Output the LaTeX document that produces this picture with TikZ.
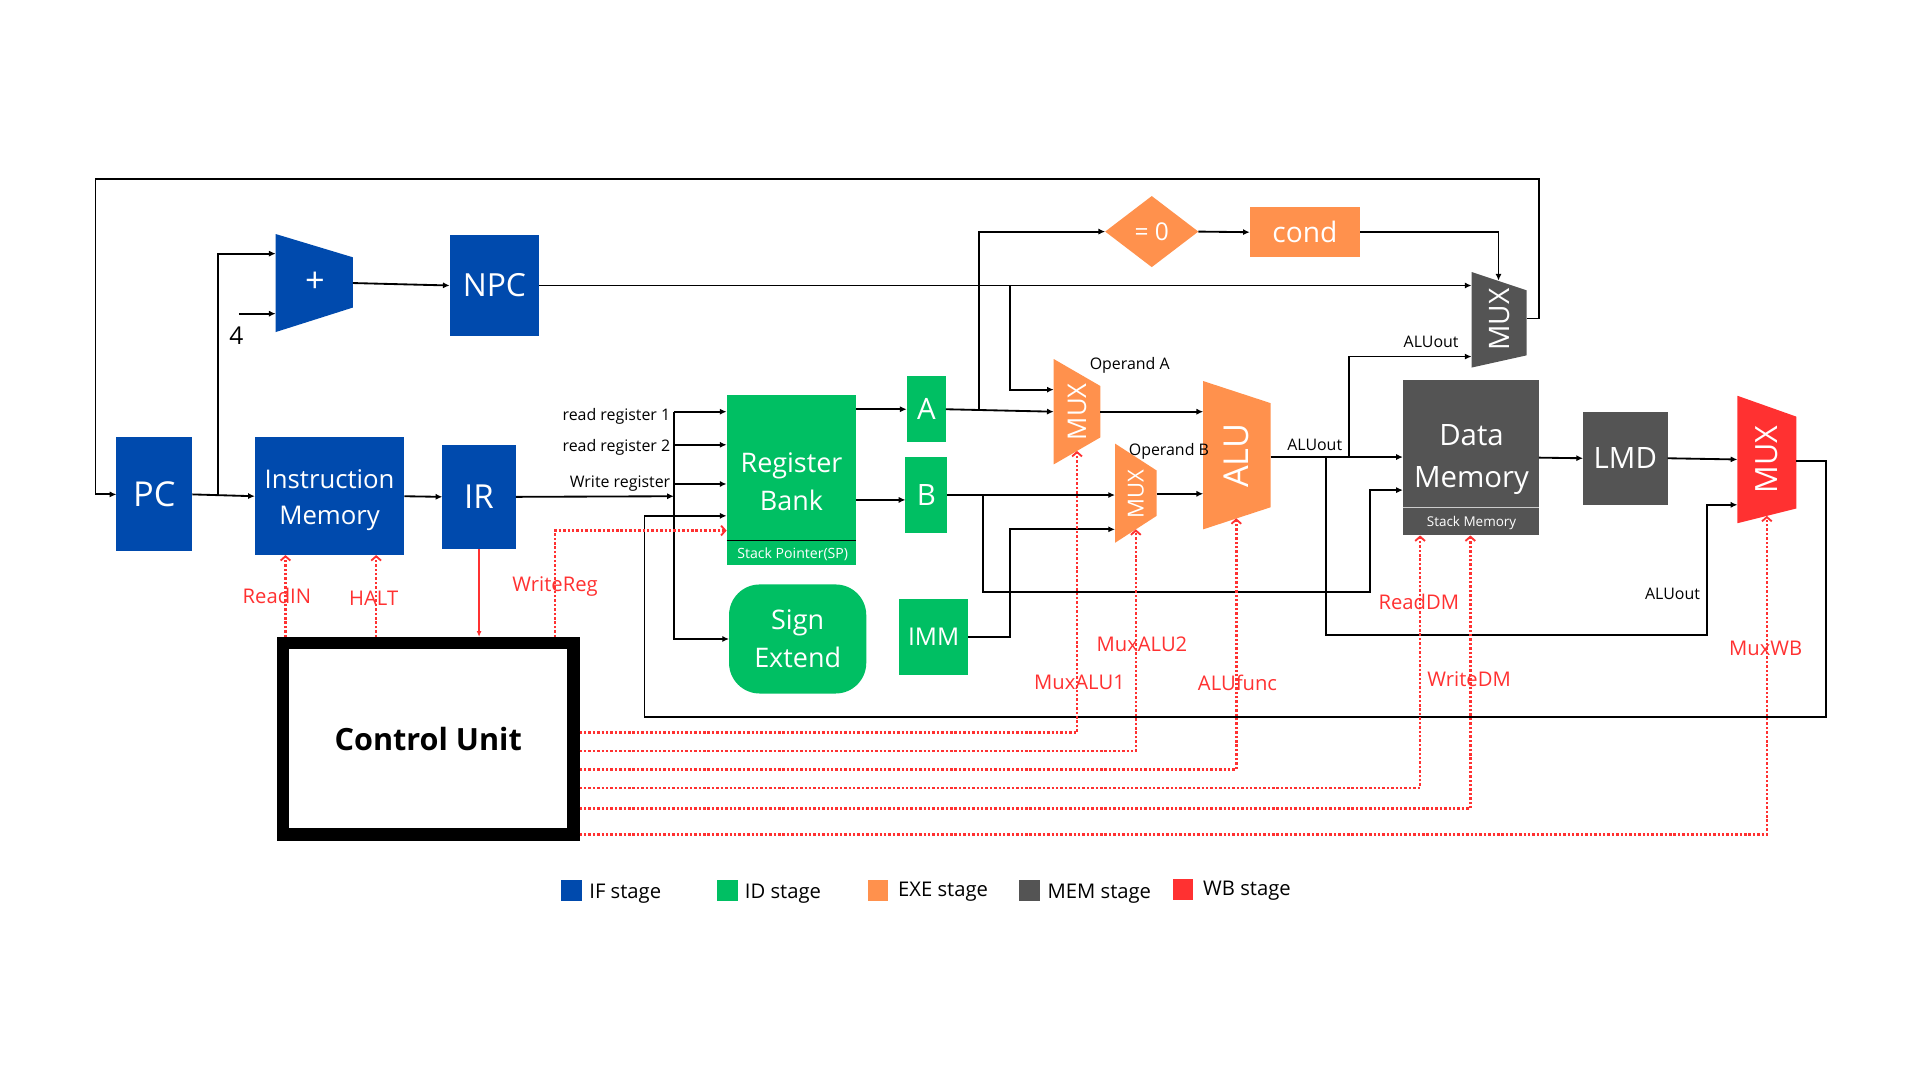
\documentclass[tikz,border=0pt]{standalone}
\usepackage{fontspec}
\setmainfont{Open Sans}
\usetikzlibrary{arrows.meta,shapes.geometric}
\definecolor{cIF}{HTML}{004AAD}
\definecolor{cID}{HTML}{00BF63}
\definecolor{cEX}{HTML}{FF914D}
\definecolor{cME}{HTML}{545454}
\definecolor{cWB}{HTML}{FF3131}
\newcommand\mytrap[7]{\fill[#7] (#1,#3) -- (#2,#5) -- (#2,#6) -- (#1,#4) -- cycle;}
\newcommand\fsz[1]{\fontsize{#1}{#1}\selectfont}
\begin{document}
\begin{tikzpicture}[x=1pt,y=-1pt,
  every node/.style={inner sep=0pt, outer sep=0pt},
  blk/.style={line width=1.5pt, draw=black},
  arr/.style={blk, -{Latex[length=5.5pt,width=5pt]}},
  ctl/.style={draw=cWB, line width=2pt, dash pattern=on 2pt off 1.6pt},
  ctla/.style={ctl, -{Straight Barb[length=3.5pt,width=8pt,line width=1.5pt]}},
  wbox/.style={text=white, align=center},
  lbl/.style={font=\fsz{13}, text=black},
  rlbl/.style={font=\fsz{16.5}, text=cWB},
  leg/.style={font=\fsz{16.5}, anchor=west},
  legsq/.style={minimum width=17pt, minimum height=17pt}
]
\useasboundingbox (0,0) rectangle (1567,881.4);

% ---------- IF stage ----------
\node[fill=cIF, wbox, minimum width=62pt, minimum height=93pt, font=\fsz{28}] (pc) at (126,403.5) {PC};
\node[fill=cIF, minimum width=122pt, minimum height=96pt] (im) at (269,405) {};
\node[wbox, font=\fontsize{21}{29}\selectfont] (imt) at (269,408) {Instruction\\Memory};
\node[fill=cIF, wbox, minimum width=60pt, minimum height=85pt, font=\fsz{27}] (ir) at (391,405.5) {IR};
\node[fill=cIF, wbox, minimum width=73pt, minimum height=82pt, font=\fsz{26}] (npc) at (403.5,233) {NPC};
\mytrap{225}{288}{191}{271}{210}{251}{cIF}
\node[wbox, font=\fsz{28}] (adder) at (257,230) {+};

% ---------- ID stage ----------
\node[fill=cID, minimum width=106pt, minimum height=139pt] (rb) at (646,391.5) {};
\node[wbox, font=\fontsize{22}{31}\selectfont] (rbt) at (646,393) {Register\\Bank};
\draw[black, line width=0.8pt] (593,441) -- (699,441);
\node[wbox, font=\fsz{11.5}] (sp) at (647,452) {Stack Pointer(SP)};
\node[fill=cID, wbox, minimum width=32pt, minimum height=54pt, font=\fsz{24}] (a) at (756,334) {A};
\node[fill=cID, wbox, minimum width=34pt, minimum height=62pt, font=\fsz{24}] (b) at (756,404) {B};
\node[fill=cID, wbox, rounded corners=25pt, minimum width=112pt, minimum height=89pt, font=\fontsize{22}{31}\selectfont] (se) at (651,521.5) {Sign\\Extend};
\node[fill=cID, wbox, minimum width=56pt, minimum height=62pt, font=\fsz{20}] (imm) at (762,520) {IMM};

% ---------- EXE stage ----------
\node[fill=cEX, wbox, diamond, minimum width=76pt, minimum height=58pt, font=\fsz{20}] (eqz) at (940,189) {= 0};
\node[fill=cEX, wbox, minimum width=90pt, minimum height=41pt, font=\fsz{23}] (cond) at (1065,189.5) {cond};
\mytrap{860}{898}{293}{379}{315}{357}{cEX}
\node[wbox, rotate=90, font=\fsz{21}] (mux1) at (879,336) {MUX};
\mytrap{910}{944}{362}{443}{384}{421}{cEX}
\node[wbox, rotate=90, font=\fsz{18}] (mux2) at (927,403) {MUX};
\mytrap{982}{1037}{311}{432}{329}{414}{cEX}
\node[wbox, rotate=90, font=\fsz{28}] (alu) at (1009,372) {ALU};

% ---------- MEM stage ----------
\mytrap{1201}{1246}{222}{300}{237}{290}{cME}
\node[wbox, rotate=90, font=\fsz{23}] (mux3) at (1224,261) {MUX};
\node[fill=cME, minimum width=111pt, minimum height=127pt] (dm) at (1200.5,373.5) {};
\node[wbox, font=\fontsize{24}{35}\selectfont] (dmt) at (1201,375) {Data\\Memory};
\draw[black!20, line width=1pt] (1145,414) -- (1256,414);
\node[wbox, font=\fsz{11}] (stk) at (1201,427) {Stack Memory};
\node[fill=cME, wbox, minimum width=69pt, minimum height=76pt, font=\fsz{24}] (lmd) at (1326.5,374) {LMD};

% ---------- WB stage ----------
\mytrap{1418}{1466}{323}{427}{340}{415}{cWB}
\node[wbox, rotate=90, font=\fsz{25}] (muxwb) at (1442,375) {MUX};

% ---------- Control unit ----------
\node[draw=black, fill=white, line width=10pt, minimum width=237pt, minimum height=156pt, font=\bfseries\fsz{25}] (cu) at (349.5,603) {Control Unit};

% ---------- coordinates ----------
\coordinate (brpc) at (178,403.8);
\coordinate (addin1) at (225,207);
\coordinate (addin2) at (225,256);
\coordinate (four) at (195,256);
\coordinate (addout) at (288,231);
\coordinate (busw) at (550,405);
\coordinate (bustop) at (550,336);
\coordinate (rr2) at (550,363);
\coordinate (wr) at (550,395);
\coordinate (rbin1) at (593,336);
\coordinate (rbin2) at (593,363);
\coordinate (rbin3) at (593,395);
\coordinate (rbin4) at (593,421);
\coordinate (rbin5) at (593,433);
\coordinate (wbout) at (1466,376);
\coordinate (loopR) at (1490,585);
\coordinate (spin) at (526,421);
\coordinate (m3out) at (1246,260);
\coordinate (lpTR) at (1256,146);
\coordinate (lpTL) at (78,146);
\coordinate (abr) at (799,334);
\coordinate (m3top) at (1223,229);
\coordinate (m3in1) at (1201,233);
\coordinate (m3in2) at (1201,291);
\coordinate (npcbr) at (824,233);
\coordinate (m1in1) at (860,318);
\coordinate (m1in2) at (860,336);
\coordinate (m1out) at (898,336);
\coordinate (aluin1) at (982,336);
\coordinate (m2in1) at (910,404);
\coordinate (m2in2) at (910,432);
\coordinate (m2out) at (944,403);
\coordinate (aluin2) at (982,403);
\coordinate (bbr) at (802,404);
\coordinate (bb2) at (1118,483);
\coordinate (dmin2) at (1145,400);
\coordinate (immbend) at (824,520);
\coordinate (aluout) at (1037,373);
\coordinate (alubr1) at (1101,373);
\coordinate (alubr2) at (1082,373);
\coordinate (alub2) at (1393,518);
\coordinate (wbin1) at (1418,375);
\coordinate (wbin2) at (1418,412);
\coordinate (wrg) at (453,520);
\coordinate (irc) at (391,520);
\coordinate (rin) at (233,520);
\coordinate (hlt) at (307,520);
\coordinate (c1) at (473,598);
\coordinate (c2) at (473,613);
\coordinate (c3) at (473,628);
\coordinate (c4) at (473,643);
\coordinate (c5) at (473,660);
\coordinate (c6) at (473,681);
\coordinate (m1bot) at (879,368);
\coordinate (m2bot) at (927,432);
\coordinate (alubot) at (1009,423);
\coordinate (dmbot1) at (1159,437);
\coordinate (dmbot2) at (1200,437);
\coordinate (wbbot) at (1442,421);

% ---------- black connectors ----------
\draw[arr] (pc.east) -- (im.west);
\draw[arr] (brpc) |- (addin1);
\draw[arr] (four) -- (addin2);
\node[font=\fsz{20}] (fourlbl) at (193,274) {4};
\draw[arr] (addout) -- (npc.west);
\draw[arr] (im.east) -- (ir.west);
\draw[arr] (ir.east) -- (busw);
\draw[arr] (bustop) |- (se.west);
\draw[arr] (bustop) -- (rbin1);
\draw[arr] (rr2) -- (rbin2);
\draw[arr] (wr) -- (rbin3);
\node[lbl, anchor=east] (lrr1) at (547,340) {read register 1};
\node[lbl, anchor=east] (lrr2) at (547,365) {read register 2};
\node[lbl, anchor=east] (lwr) at (547,395) {Write register};
\draw[arr] (wbout) -| (loopR) -| (spin) -- (rbin4);
\draw[arr] (m3out) -| (lpTR) -- (lpTL) |- (pc.west);
\draw[arr] (rb.east |- a.west) -- (a.west);
\draw[arr] (rb.east |- 0,408) -- (b.west |- 0,408);
\draw[arr] (a.east) -- (m1in2);
\draw[arr] (abr) |- (eqz.west);
\draw[arr] (eqz.east) -- (cond.west);
\draw[arr] (cond.east) -| (m3top);
\draw[arr] (npc.east) -- (m3in1);
\draw[arr] (npcbr) |- (m1in1);
\draw[arr] (m1out) -- (aluin1);
\draw[arr] (b.east) -- (m2in1);
\draw[arr] (bbr) |- (bb2) |- (dmin2);
\draw[arr] (imm.east) -- (immbend) |- (m2in2);
\draw[arr] (m2out) -- (aluin2);
\draw[arr] (aluout) -- (dm.west |- aluout);
\draw[arr] (alubr1) |- (m3in2);
\draw[arr] (alubr2) |- (alub2) |- (wbin2);
\draw[arr] (dm.east) -- (lmd.west);
\draw[arr] (lmd.east) -- (wbin1);
\node[lbl] (lopa) at (922,298) {Operand A};
\node[lbl] (lopb) at (954,368) {Operand B};
\node[lbl] (lao1) at (1073,363) {ALUout};
\node[lbl] (lao2) at (1168,279) {ALUout};
\node[lbl] (lao3) at (1365,485) {ALUout};

% ---------- red control ----------
\draw[cWB, line width=1pt, -{Latex[length=5pt,width=4pt]}] (ir.south) -- (irc);
\draw[ctla] (rin) -- (rin |- im.south);
\draw[ctla] (hlt) -- (hlt |- im.south);
\draw[ctla] (wrg) |- (rbin5);
\draw[ctla] (c1) -| (m1bot);
\draw[ctla] (c2) -| (m2bot);
\draw[ctla] (c3) -| (alubot);
\draw[ctla] (c4) -| (dmbot1);
\draw[ctla] (c5) -| (dmbot2);
\draw[ctla] (c6) -| (wbbot);
\node[rlbl] (lrin) at (226,486) {ReadIN};
\node[rlbl] (lhlt) at (305,488) {HALT};
\node[rlbl] (lwrg) at (453,479) {WriteReg};
\node[rlbl] (lma2) at (932,526) {MuxALU2};
\node[rlbl] (lma1) at (881,557) {MuxALU1};
\node[rlbl] (laf) at (1010,557) {ALUfunc};
\node[rlbl] (lrdm) at (1158,491) {ReadDM};
\node[rlbl] (lwdm) at (1199,554) {WriteDM};
\node[rlbl] (lmwb) at (1441,529) {MuxWB};

% ---------- legend ----------
\node[legsq, fill=cIF] (lg1) at (466.5,727) {};
\node[leg] (lg1t) at (481,729) {IF stage};
\node[legsq, fill=cID] (lg2) at (593.5,727) {};
\node[leg] (lg2t) at (608,729) {ID stage};
\node[legsq, fill=cEX] (lg3) at (716.5,727) {};
\node[leg] (lg3t) at (733,728) {EXE stage};
\node[legsq, fill=cME] (lg4) at (840.5,727) {};
\node[leg] (lg4t) at (855,729) {MEM stage};
\node[legsq, fill=cWB] (lg5) at (965.5,726) {};
\node[leg] (lg5t) at (982,727) {WB stage};
\end{tikzpicture}
\end{document}
